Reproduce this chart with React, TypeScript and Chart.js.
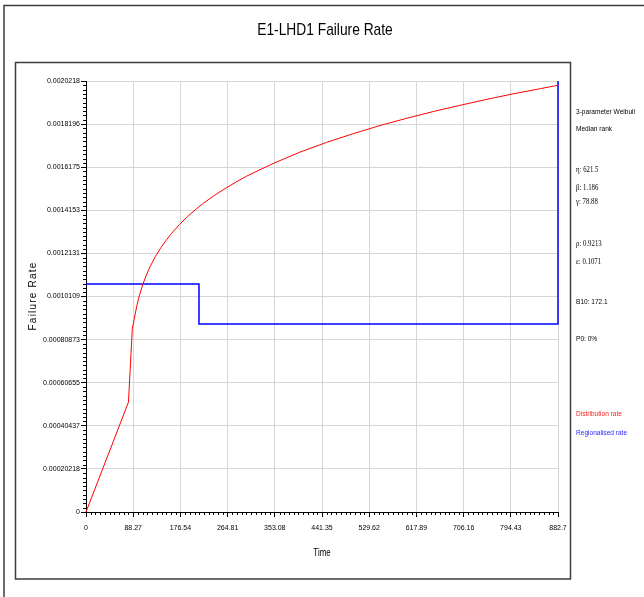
import React, { useEffect, useRef } from 'react';
import { Chart, registerables } from 'chart.js';

Chart.register(...registerables);

// ---- data ----
const titleText = 'E1-LHD1 Failure Rate';
const xTitle = 'Time';
const yTitle = 'Failure Rate';

const xTickLabels = ['0', '88.27', '176.54', '264.81', '353.08', '441.35', '529.62', '617.89', '706.16', '794.43', '882.7'];
const yTickLabels = ['0', '0.00020218', '0.00040437', '0.00060655', '0.00080873', '0.0010109', '0.0012131', '0.0014153', '0.0016175', '0.0018196', '0.0020218'];

// Distribution rate (red curve)
const distTimes = [0, 79.4, 86.6, 90, 95, 100, 106, 113, 120, 130, 140, 150, 160, 175, 190, 205, 220, 240, 260, 280, 300, 350, 400, 450, 500, 550, 600, 650, 700, 750, 800, 850, 882.7];
const distRates = [0, 0.000515, 0.00086, 0.000903, 0.000967, 0.001017, 0.001066, 0.001112, 0.001152, 0.001199, 0.00124, 0.001275, 0.001307, 0.001349, 0.001386, 0.001419, 0.001449, 0.001485, 0.001517, 0.001547, 0.001575, 0.001635, 0.001688, 0.001734, 0.001775, 0.001813, 0.001847, 0.001879, 0.001908, 0.001936, 0.001962, 0.001986, 0.002002];

// Regionalised rate (blue step line)
const regTimes = [0, 211.3, 211.3, 882.7, 882.7];
const regRates = [0.00107, 0.00107, 0.000882, 0.000882, 0.0020218];

const infoSans = ['3-parameter Weibull', 'Median rank'];
const infoParams = ['η: 621.5', 'β: 1.186', 'γ: 78.88'];
const infoFit = ['ρ: 0.9213', 'ε: 0.1071'];
const infoB10 = 'B10: 172.1';
const infoP0 = 'P0: 0%';
const legendLabels = ['Distribution rate', 'Regionalised rate'];
const legendColors = ['#ff2020', '#2828ff'];

const SANS = "'Liberation Sans', Arial, sans-serif";
const SERIF = "'Liberation Serif', 'Times New Roman', serif";

function narrowText(ctx: CanvasRenderingContext2D, text: string, x: number, y: number, sx: number) {
  ctx.save();
  ctx.translate(x, y);
  ctx.scale(sx, 1);
  ctx.fillText(text, 0, 0);
  ctx.restore();
}

const decorPlugin = {
  id: 'decor',
  afterDraw(chart: any) {
    const ctx: CanvasRenderingContext2D = chart.ctx;
    const xs = chart.scales.x;
    const ys = chart.scales.y;
    ctx.save();

    // minor ticks
    ctx.strokeStyle = '#000';
    ctx.lineWidth = 1;
    const xVals = xTickLabels.map(Number);
    const yVals = yTickLabels.map(Number);
    const bottom = chart.chartArea.bottom;
    const left = chart.chartArea.left;
    ctx.beginPath();
    for (let i = 0; i < xVals.length - 1; i++) {
      for (let k = 1; k < 10; k++) {
        const v = xVals[i] + ((xVals[i + 1] - xVals[i]) * k) / 10;
        const px = Math.round(xs.getPixelForValue(v)) + 0.5;
        ctx.moveTo(px, bottom);
        ctx.lineTo(px, bottom + 3);
      }
    }
    for (let i = 0; i < yVals.length - 1; i++) {
      for (let k = 1; k < 10; k++) {
        const v = yVals[i] + ((yVals[i + 1] - yVals[i]) * k) / 10;
        const py = Math.round(ys.getPixelForValue(v)) + 0.5;
        ctx.moveTo(left, py);
        ctx.lineTo(left - 3, py);
      }
    }
    ctx.stroke();

    // frames
    ctx.strokeStyle = '#3c3c3c';
    ctx.lineWidth = 1.5;
    ctx.beginPath();
    ctx.moveTo(4, 597);
    ctx.lineTo(4, 5.5);
    ctx.lineTo(644, 5.5);
    ctx.stroke();
    ctx.beginPath();
    ctx.rect(15.5, 62.5, 555, 516.5);
    ctx.stroke();

    // title
    ctx.fillStyle = '#000';
    ctx.textAlign = 'center';
    ctx.textBaseline = 'alphabetic';
    ctx.font = `17px ${SANS}`;
    narrowText(ctx, titleText, 325, 35, 0.81);

    // axis titles
    ctx.font = `11px ${SANS}`;
    narrowText(ctx, xTitle, 322, 556, 0.72);
    ctx.save();
    ctx.translate(36, 296);
    ctx.rotate(-Math.PI / 2);
    ctx.font = `10px ${SANS}`;
    (ctx as any).letterSpacing = '1.2px';
    ctx.fillText(yTitle, 0, 0);
    ctx.restore();

    // right panel
    ctx.textAlign = 'left';
    const tx = 576;
    ctx.fillStyle = '#000';
    ctx.font = `8px ${SANS}`;
    narrowText(ctx, infoSans[0], tx, 113.5, 0.82);
    narrowText(ctx, infoSans[1], tx, 131, 0.82);
    ctx.font = `8px ${SERIF}`;
    narrowText(ctx, infoParams[0], tx, 172, 0.85);
    narrowText(ctx, infoParams[1], tx, 189.5, 0.85);
    narrowText(ctx, infoParams[2], tx, 204, 0.85);
    narrowText(ctx, infoFit[0], tx, 246, 0.85);
    narrowText(ctx, infoFit[1], tx, 263.5, 0.85);
    ctx.font = `8px ${SANS}`;
    narrowText(ctx, infoB10, tx, 303.5, 0.82);
    narrowText(ctx, infoP0, tx, 341, 0.82);
    ctx.fillStyle = legendColors[0];
    narrowText(ctx, legendLabels[0], tx, 415.5, 0.82);
    ctx.fillStyle = legendColors[1];
    narrowText(ctx, legendLabels[1], tx, 435, 0.82);

    ctx.restore();
  },
};

export default function App() {
  const ref = useRef<HTMLCanvasElement>(null);

  useEffect(() => {
    if (!ref.current) return;
    const xVals = xTickLabels.map(Number);
    const yVals = yTickLabels.map(Number);
    const chart = new Chart(ref.current, {
      type: 'line',
      data: {
        datasets: [
          {
            label: legendLabels[0],
            data: distTimes.map((t, i) => ({ x: t, y: distRates[i] })),
            borderColor: '#ff0000',
            borderWidth: 1,
            pointRadius: 0,
            fill: false,
            tension: 0,
            clip: 3,
          },
          {
            label: legendLabels[1],
            data: regTimes.map((t, i) => ({ x: t, y: regRates[i] })),
            borderColor: '#0000ff',
            borderWidth: 1.5,
            pointRadius: 0,
            fill: false,
            tension: 0,
            clip: 3,
          },
        ],
      },
      options: {
        animation: false,
        responsive: false,
        devicePixelRatio: 1,
        layout: { padding: { left: 0, right: 86, top: 81, bottom: 35 } },
        plugins: { legend: { display: false }, tooltip: { enabled: false } },
        scales: {
          x: {
            type: 'linear',
            min: 0,
            max: 882.7,
            afterBuildTicks: (scale: any) => {
              scale.ticks = xVals.map((v) => ({ value: v }));
            },
            afterFit: (scale: any) => {
              scale.height = 50;
            },
            ticks: {
              callback: (_v: any, i: number) => xTickLabels[i],
              font: { family: SANS, size: 7 },
              color: '#000',
              padding: 7,
              maxRotation: 0,
              autoSkip: false,
            },
            grid: { color: '#d6d6d6', lineWidth: 1, tickLength: 5, tickColor: '#000', drawTicks: true },
            border: { display: true, color: '#000', width: 1 },
          },
          y: {
            type: 'linear',
            min: 0,
            max: 0.0020218,
            afterBuildTicks: (scale: any) => {
              scale.ticks = yVals.map((v) => ({ value: v }));
            },
            afterFit: (scale: any) => {
              scale.width = 86;
            },
            ticks: {
              callback: (_v: any, i: number) => yTickLabels[i],
              font: { family: SANS, size: 7 },
              color: '#000',
              padding: 1,
              autoSkip: false,
            },
            grid: { color: '#d6d6d6', lineWidth: 1, tickLength: 5, tickColor: '#000', drawTicks: true },
            border: { display: true, color: '#000', width: 1 },
          },
        },
      },
      plugins: [decorPlugin],
    } as any);
    return () => chart.destroy();
  }, []);

  return (
    <div style={{ position: 'absolute', left: 0, top: 0, width: 644, height: 597, background: '#fff' }}>
      <canvas ref={ref} width={644} height={597} style={{ display: 'block', width: 644, height: 597 }} />
    </div>
  );
}
